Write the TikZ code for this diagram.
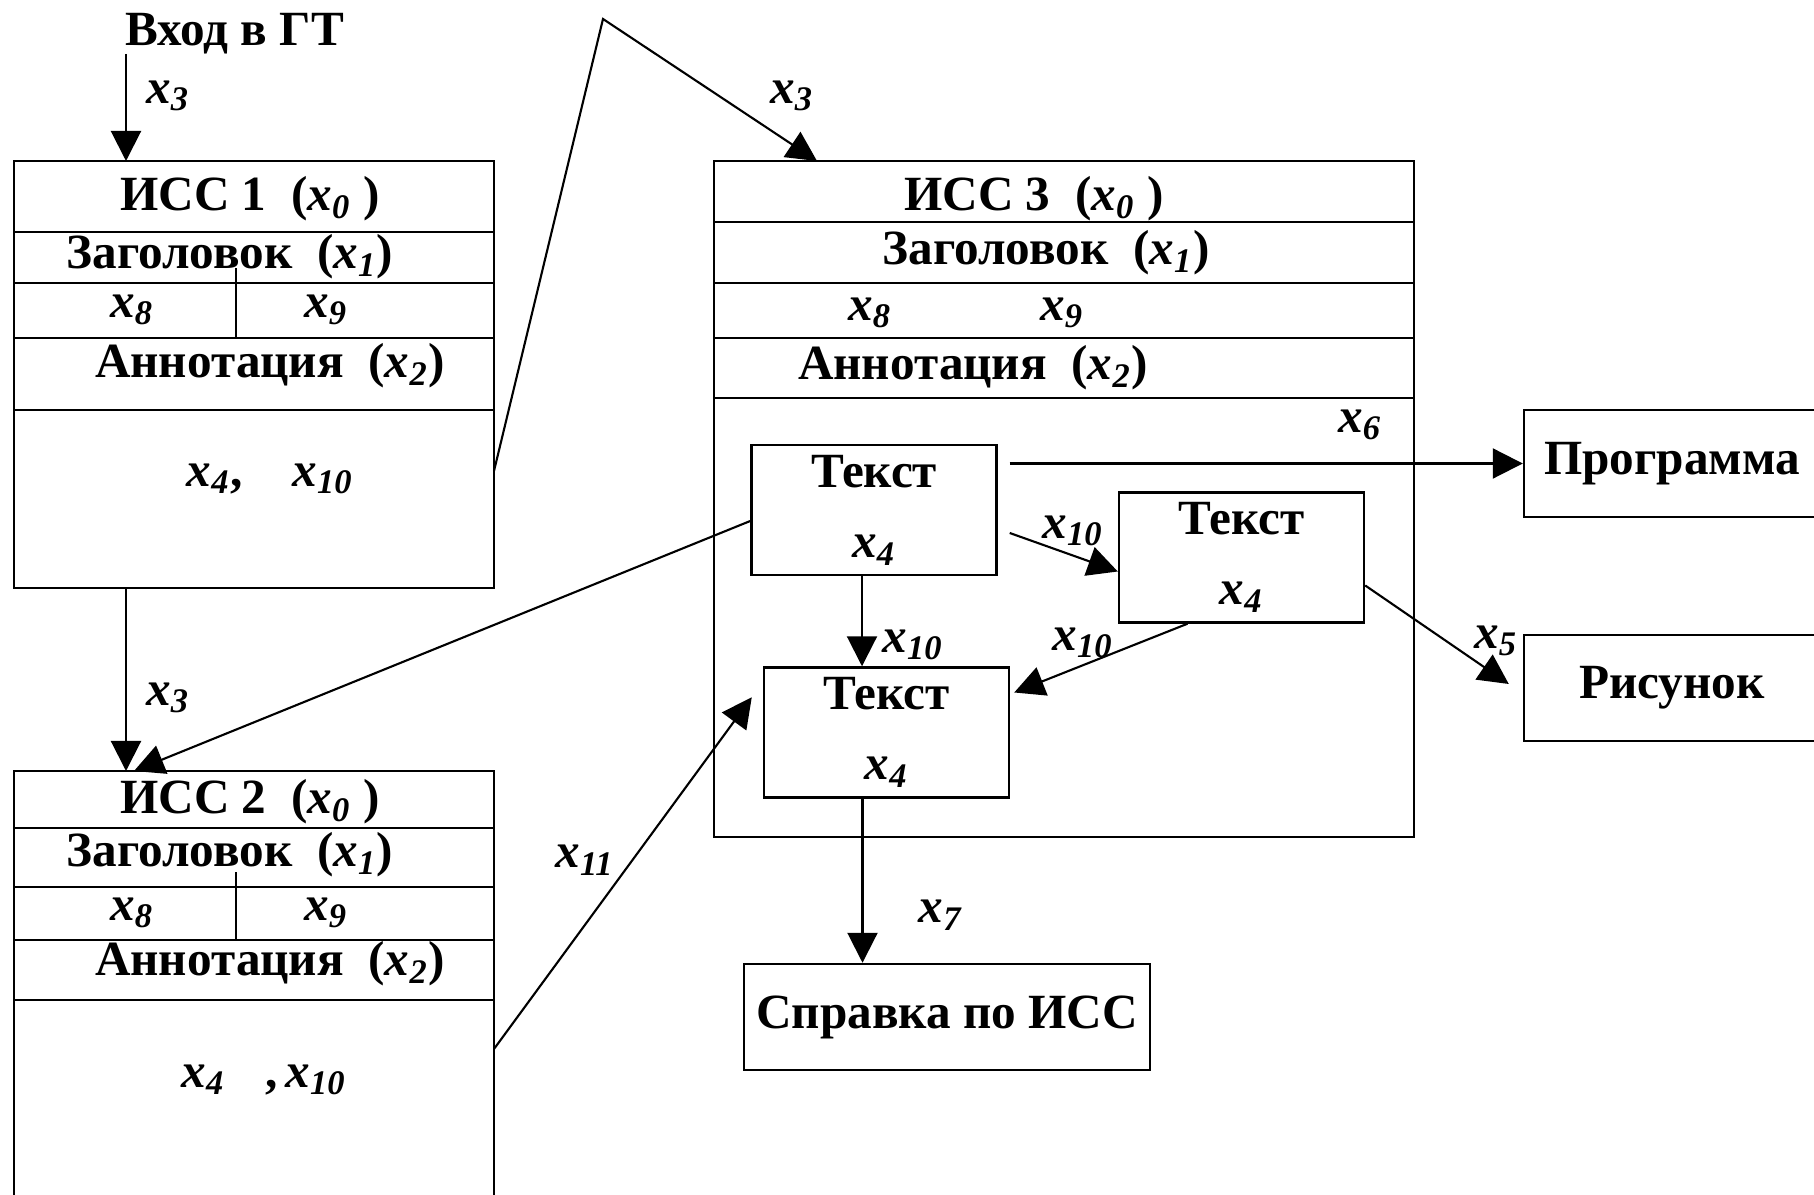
\documentclass[tikz,border=0pt]{standalone}
\usepackage{fontspec}
\setmainfont{Liberation Serif}
\usetikzlibrary{positioning,arrows.meta}
\newcommand{\xv}[1]{\textit{x}\textsubscript{\textit{#1}}}
\tikzset{
    issrow/.style={draw, line width=0.7pt, minimum width=#1, inner sep=0pt, outer sep=0pt},
    isstext/.style={inner sep=0pt},
    textbox/.style={draw, line width=0.7pt, align=center, minimum width=24.5mm, minimum height=13mm, inner sep=0pt},
    outbox/.style={draw, line width=0.7pt, align=center, minimum height=10.6mm, inner sep=0pt},
    flowarrow/.style={draw, line width=0.6pt, -{Triangle[length=3mm, width=3mm]}},
    flowline/.style={draw, line width=0.6pt},
    varlabel/.style={inner sep=0pt}
}
\begin{document}
\begin{tikzpicture}[x=0.1mm, y=-0.1mm, font=\fontsize{14}{16}\selectfont\bfseries]
    \path[fill=white, use as bounding box] (0,0) rectangle (1814,1195);
    % ISS 1
    \node[issrow=48mm, minimum height=7.1mm] (iss1title) at (254,196.5) {};
    \node[issrow=48mm, minimum height=5.1mm, below=0pt of iss1title] (iss1head) {};
    \node[issrow=48mm, minimum height=5.5mm, below=0pt of iss1head] (iss1keys) {};
    \node[issrow=48mm, minimum height=7.2mm, below=0pt of iss1keys] (iss1annot) {};
    \node[issrow=48mm, minimum height=17.8mm, below=0pt of iss1annot] (iss1body) {};
    \node[isstext] (iss1name) at (250,199) {ИСС 1~~(\xv{0}~)};
    \node[isstext] (iss1headlbl) at (230,257) {Заголовок~~(\xv{1})};
    \node[isstext] (iss1x8) at (132,310) {\xv{8}};
    \node[isstext] (iss1x9) at (326,310) {\xv{9}};
    \node[isstext] (iss1annotlbl) at (270,366) {Аннотация~~(\xv{2})};
    \node[isstext] (iss1bodylbl) at (270,479) {\xv{4},\hspace{5mm}\xv{10}};
    \draw[flowline] ([xshift=22.2mm]iss1keys.south west) -- ([xshift=22.2mm, yshift=1.5mm]iss1keys.north west);
    % ISS 2
    \node[issrow=48mm, minimum height=5.7mm] (iss2title) at (254,799.5) {};
    \node[issrow=48mm, minimum height=5.9mm, below=0pt of iss2title] (iss2head) {};
    \node[issrow=48mm, minimum height=5.3mm, below=0pt of iss2head] (iss2keys) {};
    \node[issrow=48mm, minimum height=6.0mm, below=0pt of iss2keys] (iss2annot) {};
    \node[issrow=48mm, minimum height=23mm, below=0pt of iss2annot] (iss2body) {};
    \node[isstext] (iss2name) at (250,802) {ИСС 2~~(\xv{0}~)};
    \node[isstext] (iss2headlbl) at (230,855) {Заголовок~~(\xv{1})};
    \node[isstext] (iss2x8) at (132,913) {\xv{8}};
    \node[isstext] (iss2x9) at (326,913) {\xv{9}};
    \node[isstext] (iss2annotlbl) at (270,964) {Аннотация~~(\xv{2})};
    \node[isstext] (iss2bodylbl) at (264,1080) {\xv{4}\hspace{4mm},\,\xv{10}};
    \draw[flowline] ([xshift=22.2mm]iss2keys.south west) -- ([xshift=22.2mm, yshift=1.5mm]iss2keys.north west);
    % ISS 3
    \node[issrow=70mm, minimum height=6.1mm] (iss3title) at (1064,191.5) {};
    \node[issrow=70mm, minimum height=6.1mm, below=0pt of iss3title] (iss3head) {};
    \node[issrow=70mm, minimum height=5.5mm, below=0pt of iss3head] (iss3keys) {};
    \node[issrow=70mm, minimum height=6.0mm, below=0pt of iss3keys] (iss3annot) {};
    \node[issrow=70mm, minimum height=43.9mm, below=0pt of iss3annot] (iss3body) {};
    \node[isstext] (iss3name) at (1034,199) {ИСС 3~~(\xv{0}~)};
    \node[isstext] (iss3headlbl) at (1046,253) {Заголовок~~(\xv{1})};
    \node[isstext] (iss3x8) at (870,313) {\xv{8}};
    \node[isstext] (iss3x9) at (1062,313) {\xv{9}};
    \node[isstext] (iss3annotlbl) at (973,368) {Аннотация~~(\xv{2})};
    \node[varlabel] (lblx6) at (1360,425) {\xv{6}};
    \node[textbox] (textA) at (874,510) {Текст\\[4pt]\xv{4}};
    \node[textbox] (textB) at (1241.5,557.5) {Текст\\[4pt]\xv{4}};
    \node[textbox] (textC) at (886.5,732.5) {Текст\\[4pt]\xv{4}};
    % outputs
    \node[outbox, minimum width=29.6mm, minimum height=10.7mm] (prog) at (1672,463.5) {Программа};
    \node[outbox, minimum width=29.6mm] (pict) at (1672,688) {Рисунок};
    \node[outbox, minimum width=40.6mm] (help) at (947,1017) {Справка по ИСС};
    % entry
    \node[isstext, anchor=base west] (entry) at (125,46) {Вход в ГТ};
    \coordinate (apex) at (603,19);
    \draw[flowarrow] ([xshift=0.1mm, yshift=-0.8mm]entry.base west) -- ([xshift=0.1mm]entry.base west |- iss1title.north);
    \node[varlabel] (lblentry) at (168,96) {\xv{3}};
    \draw[flowarrow] ([xshift=11.2mm]iss1body.south west) -- ([xshift=11.2mm]iss2title.north west);
    \node[varlabel] (lbldown) at (168,698) {\xv{3}};
    \draw[flowarrow] ([yshift=2.8mm]iss1body.east) -- (apex) -- ([xshift=10.3mm]iss3title.north west);
    \node[varlabel] (lbljump) at (792,96) {\xv{3}};
    \draw[flowarrow] ([yshift=-1.1mm]textA.west) -- ([xshift=12mm]iss2title.north west);
    \draw[flowarrow] ([yshift=6.6mm]iss2body.east) -- ([xshift=-1.1mm, yshift=-3.1mm]textC.north west);
    \node[varlabel] (lblx11) at (585,860) {\xv{11}};
    \draw[flowarrow] ([xshift=1.2mm]textA.east |- prog.west) -- (prog.west);
    \draw[flowarrow] ([xshift=1.2mm, yshift=-2.3mm]textA.east) -- ([yshift=-1.4mm]textB.west);
    \node[varlabel] (lblab) at (1073,531) {\xv{10}};
    \draw[flowarrow] ([xshift=-1.2mm]textA.south) -- ([xshift=-1.2mm]textA.south |- textC.north);
    \node[varlabel] (lblac) at (913,645) {\xv{10}};
    \draw[flowarrow] ([xshift=-5.4mm]textB.south) -- ([xshift=0.4mm, yshift=4mm]textC.east);
    \node[varlabel] (lblbc) at (1083,643) {\xv{10}};
    \draw[flowarrow] ([yshift=-2.8mm]textB.east) -- ([xshift=-1.4mm, yshift=0.4mm]pict.west);
    \node[varlabel] (lblx5) at (1496,641) {\xv{5}};
    \draw[flowarrow] ([xshift=-2.4mm]textC.south) -- ([xshift=-2.4mm]textC.south |- help.north);
    \node[varlabel] (lblx7) at (941,915) {\xv{7}};
\end{tikzpicture}
\end{document}
